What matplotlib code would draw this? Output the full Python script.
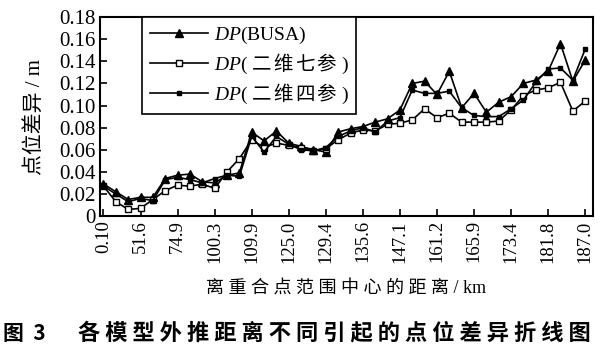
import matplotlib
matplotlib.use("Agg")
import matplotlib.pyplot as plt

plt.rcParams['font.family'] = ['Liberation Serif', 'Noto Sans CJK SC']
plt.rcParams['mathtext.fontset'] = 'custom'
plt.rcParams['mathtext.it'] = 'Liberation Serif:italic'
plt.rcParams['mathtext.rm'] = 'Liberation Serif'
plt.rcParams['mathtext.sf'] = 'Noto Sans CJK SC'

# tick labels shown on every third point
tick_labels = ["0.10", "51.6", "74.9", "100.3", "109.9", "125.0", "129.4",
               "135.6", "147.1", "161.2", "165.9", "173.4", "181.8", "187.0"]

dp_busa = [0.029, 0.022, 0.015, 0.017, 0.017, 0.034, 0.037, 0.038, 0.031, 0.030,
           0.037, 0.039, 0.076, 0.068, 0.077, 0.066, 0.063, 0.060, 0.058, 0.076,
           0.079, 0.081, 0.085, 0.088, 0.096, 0.120, 0.122, 0.110, 0.131, 0.098,
           0.111, 0.094, 0.103, 0.108, 0.120, 0.123, 0.131, 0.156, 0.122, 0.141]

dp_7param = [0.027, 0.013, 0.006, 0.007, 0.015, 0.023, 0.028, 0.027, 0.029, 0.025,
             0.040, 0.052, 0.069, 0.062, 0.066, 0.064, 0.062, 0.059, 0.061, 0.069,
             0.075, 0.078, 0.077, 0.083, 0.084, 0.087, 0.097, 0.089, 0.093, 0.085,
             0.085, 0.085, 0.086, 0.096, 0.109, 0.114, 0.116, 0.121, 0.095, 0.104]

dp_4param = [0.027, 0.020, 0.013, 0.016, 0.014, 0.033, 0.035, 0.033, 0.030, 0.034,
             0.037, 0.036, 0.072, 0.058, 0.072, 0.065, 0.060, 0.059, 0.062, 0.072,
             0.077, 0.080, 0.076, 0.086, 0.089, 0.114, 0.111, 0.111, 0.113, 0.098,
             0.091, 0.090, 0.090, 0.097, 0.105, 0.121, 0.133, 0.134, 0.123, 0.151]

x = list(range(len(dp_busa)))

fig = plt.figure(figsize=(6.16, 3.56), dpi=100)
ax = fig.add_axes([0.162, 0.393, 0.801, 0.559])

ax.plot(x, dp_busa, color="black", lw=1.2, marker="^", ms=6, mfc="black",
        label="$DP$(BUSA)")
ax.plot(x, dp_7param, color="black", lw=1.2, marker="s", ms=4.5, mfc="white",
        mew=1.0, label="$DP$( $\\mathsf{二\\,维\\,七\\,参}$ )")
ax.plot(x, dp_4param, color="black", lw=1.2, marker="s", ms=3.2, mfc="black",
        label="$DP$( $\\mathsf{二\\,维\\,四\\,参}$ )")

ax.set_xlim(-0.3, 39.65)
ax.set_ylim(0, 0.18)
ax.set_xticks(x[::3])
ax.set_xticklabels(tick_labels, rotation=90, fontsize=13.5)
ax.set_yticks([i * 0.02 for i in range(10)])
ax.set_yticklabels(["0"] + ["%.2f" % (i * 0.02) for i in range(1, 10)], fontsize=15)
ax.tick_params(direction="in", length=5, width=1.2, pad=3)
for sp in ax.spines.values():
    sp.set_linewidth(1.5)

ax.set_ylabel("点位差异 / m", fontsize=15, labelpad=10)
xlab = " ".join("离重合点范围中心的距离") + " / km"
ax.set_xlabel(xlab, fontsize=13, labelpad=12)

leg = ax.legend(loc="upper left", bbox_to_anchor=(0.085, 1.0), borderaxespad=0,
                fontsize=14, handlelength=3.0, frameon=True, fancybox=False,
                edgecolor="black", framealpha=1, labelspacing=0.3,
                borderpad=0.4, handletextpad=0.3)
leg.get_frame().set_linewidth(1.2)

fig.text(0.005, 0.045, "图  3", fontsize=15, fontweight="bold",
         family=["Noto Sans CJK SC"])
caption = "各模型外推距离不同引起的点位差异折线图"
fig.text(0.127, 0.045, " ".join(caption), fontsize=16, fontweight="bold",
         family=["Noto Sans CJK SC"])

fig.savefig("out.png", dpi=100)
